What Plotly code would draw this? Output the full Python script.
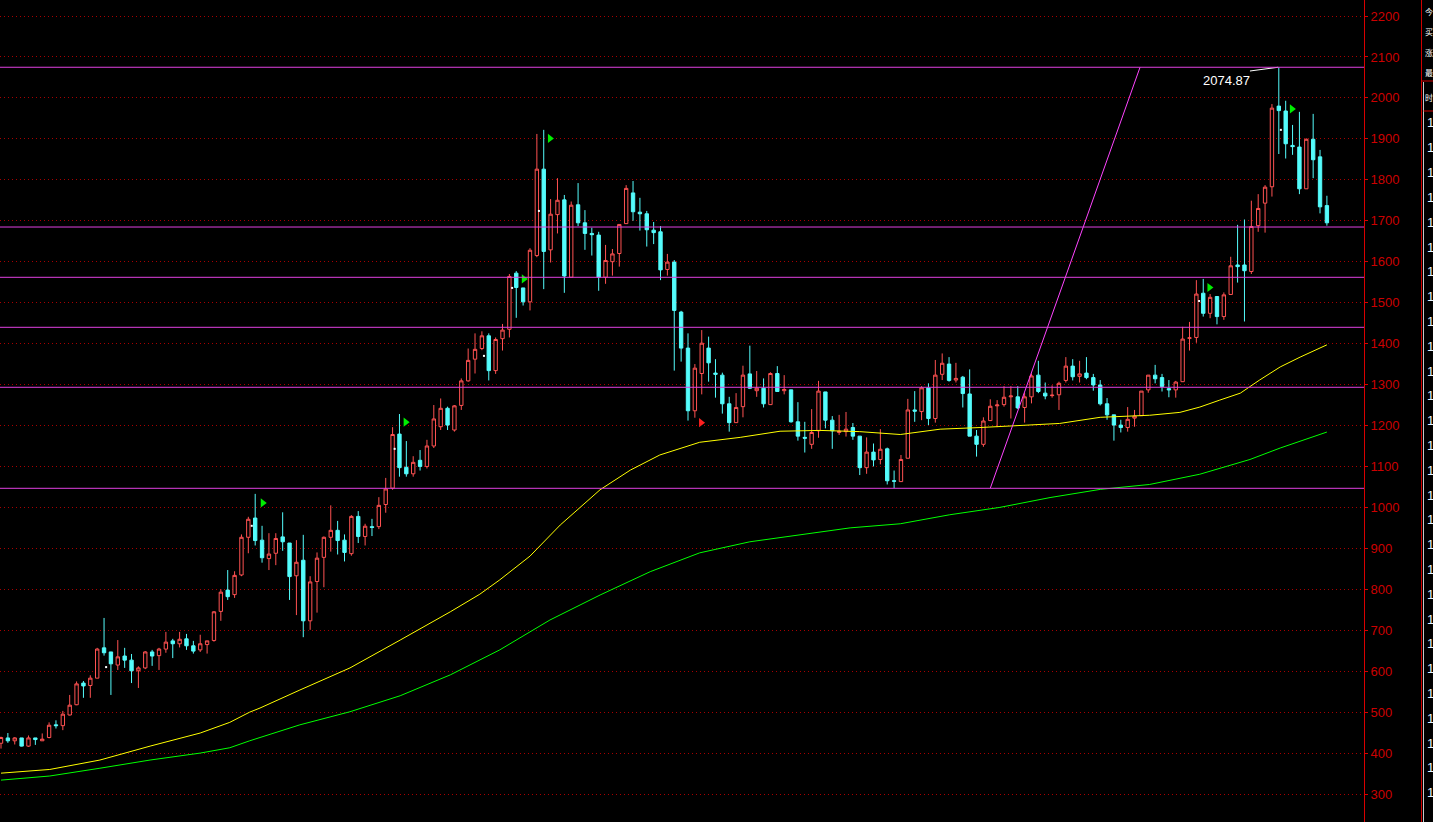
import plotly.graph_objects as go

# ---------------- data ----------------
opens = [
    424, 437, 430, 437, 417, 437, 430, 438, 469, 467,
    493, 518, 571, 565, 583, 657, 647, 615, 637, 627,
    601, 608, 647, 638, 654, 674, 667, 679, 662, 652,
    665, 675, 746, 798, 787, 835, 927, 974, 920, 875,
    888, 928, 913, 833, 871, 723, 819, 878, 927, 944,
    920, 887, 978, 929, 953, 953, 1007, 1047, 1179, 1098,
    1082, 1115, 1100, 1150, 1197, 1242, 1189, 1249, 1309, 1362,
    1388, 1419, 1334, 1412, 1435, 1572, 1536, 1502, 1615, 1826,
    1629, 1715, 1751, 1562, 1739, 1695, 1669, 1665, 1562, 1600,
    1620, 1693, 1768, 1721, 1717, 1677, 1673, 1581, 1599, 1477,
    1389, 1236, 1327, 1389, 1328, 1323, 1253, 1207, 1246, 1326,
    1285, 1291, 1251, 1327, 1285, 1287, 1209, 1171, 1154, 1187,
    1282, 1213, 1183, 1185, 1195, 1174, 1097, 1135, 1117, 1143,
    1065, 1063, 1120, 1238, 1234, 1292, 1217, 1325, 1350, 1311,
    1318, 1277, 1174, 1154, 1212, 1248, 1251, 1270, 1270, 1244,
    1270, 1323, 1279, 1273, 1275, 1310, 1345, 1320, 1328, 1317,
    1299, 1253, 1226, 1201, 1195, 1218, 1224, 1287, 1323, 1317,
    1290, 1287, 1307, 1413, 1415, 1523, 1474, 1515, 1466, 1520,
    1592, 1592, 1576, 1688, 1743, 1783, 1980, 1968, 1884, 1880,
    1778, 1899, 1856, 1737,
]
highs = [
    440, 449, 439, 437, 443, 437, 448, 475, 480, 503,
    542, 575, 576, 590, 657, 730, 647, 676, 657, 642,
    612, 649, 652, 657, 696, 679, 696, 691, 674, 689,
    674, 747, 800, 847, 844, 934, 977, 1033, 955, 937,
    937, 988, 913, 920, 933, 832, 890, 929, 1005, 967,
    934, 981, 991, 960, 972, 1025, 1072, 1196, 1228, 1162,
    1125, 1140, 1165, 1250, 1266, 1246, 1250, 1315, 1388, 1425,
    1430, 1425, 1415, 1448, 1570, 1577, 1536, 1633, 1912, 1922,
    1753, 1804, 1763, 1747, 1792, 1726, 1683, 1673, 1641, 1631,
    1691, 1787, 1797, 1756, 1724, 1697, 1687, 1619, 1604, 1480,
    1425, 1350, 1433, 1417, 1362, 1329, 1270, 1279, 1346, 1395,
    1333, 1315, 1330, 1345, 1323, 1287, 1257, 1209, 1240, 1309,
    1282, 1223, 1226, 1233, 1206, 1174, 1171, 1156, 1191, 1146,
    1090, 1128, 1265, 1284, 1296, 1303, 1360, 1376, 1367, 1353,
    1321, 1337, 1189, 1220, 1264, 1262, 1296, 1296, 1296, 1280,
    1327, 1358, 1305, 1298, 1307, 1367, 1362, 1358, 1367, 1326,
    1311, 1267, 1226, 1214, 1245, 1238, 1284, 1323, 1348, 1326,
    1311, 1309, 1441, 1453, 1555, 1558, 1521, 1516, 1525, 1612,
    1690, 1703, 1749, 1765, 1787, 1985, 2074.87, 1993, 1934, 1966,
    1901, 1961, 1873, 1761,
]
lows = [
    411, 425, 421, 416, 415, 420, 430, 436, 460, 456,
    492, 517, 535, 535, 583, 638, 542, 603, 608, 571,
    559, 605, 613, 603, 645, 632, 658, 652, 643, 647,
    643, 672, 723, 774, 779, 832, 888, 907, 865, 847,
    859, 894, 774, 737, 683, 701, 743, 805, 892, 885,
    868, 882, 913, 907, 930, 947, 987, 1043, 1075, 1075,
    1075, 1090, 1095, 1145, 1189, 1189, 1185, 1238, 1307, 1327,
    1384, 1310, 1326, 1383, 1415, 1463, 1493, 1481, 1611, 1533,
    1598, 1669, 1524, 1562, 1687, 1629, 1615, 1529, 1546, 1566,
    1588, 1693, 1700, 1676, 1637, 1643, 1555, 1566, 1334, 1356,
    1212, 1219, 1276, 1307, 1268, 1229, 1185, 1207, 1220, 1289,
    1270, 1244, 1251, 1283, 1276, 1207, 1163, 1134, 1143, 1170,
    1193, 1143, 1177, 1173, 1165, 1079, 1082, 1100, 1105, 1056,
    1047, 1063, 1120, 1209, 1213, 1201, 1207, 1311, 1307, 1305,
    1244, 1174, 1124, 1148, 1211, 1196, 1246, 1217, 1240, 1207,
    1254, 1279, 1264, 1268, 1238, 1305, 1310, 1305, 1313, 1285,
    1249, 1214, 1163, 1183, 1185, 1197, 1224, 1280, 1303, 1283,
    1269, 1268, 1307, 1383, 1402, 1466, 1462, 1447, 1458, 1520,
    1549, 1454, 1570, 1673, 1671, 1759, 1863, 1852, 1861, 1765,
    1778, 1804, 1718, 1688,
]
closes = [
    438, 430, 437, 417, 437, 433, 434, 468, 467, 495,
    517, 569, 564, 583, 654, 645, 618, 635, 627, 601,
    608, 647, 637, 654, 671, 667, 678, 662, 649, 667,
    674, 745, 793, 782, 834, 927, 971, 919, 877, 886,
    924, 916, 831, 866, 723, 818, 876, 927, 944, 919,
    890, 978, 929, 954, 951, 1005, 1045, 1178, 1097, 1082,
    1110, 1100, 1150, 1216, 1242, 1201, 1248, 1309, 1359, 1386,
    1419, 1334, 1410, 1433, 1564, 1537, 1502, 1628, 1826, 1625,
    1716, 1750, 1565, 1738, 1695, 1669, 1666, 1562, 1603, 1619,
    1691, 1779, 1722, 1717, 1678, 1671, 1580, 1599, 1481, 1389,
    1236, 1340, 1401, 1353, 1325, 1253, 1207, 1244, 1323, 1291,
    1291, 1253, 1327, 1283, 1288, 1209, 1174, 1169, 1183, 1284,
    1213, 1187, 1186, 1191, 1174, 1097, 1135, 1116, 1142, 1065,
    1064, 1117, 1238, 1235, 1292, 1217, 1323, 1352, 1310, 1315,
    1278, 1174, 1154, 1211, 1247, 1250, 1269, 1272, 1243, 1270,
    1321, 1283, 1272, 1274, 1303, 1345, 1319, 1326, 1317, 1299,
    1253, 1226, 1201, 1195, 1215, 1223, 1284, 1323, 1314, 1295,
    1287, 1306, 1411, 1414, 1521, 1474, 1513, 1466, 1519, 1590,
    1588, 1578, 1686, 1730, 1782, 1975, 1969, 1888, 1881, 1778,
    1899, 1849, 1734, 1695,
]

# moving averages (sampled along the drawn curves)
ma_short_idx = [0, 7.1, 14.4, 21.7, 29, 33.3, 36.2, 37.7, 43.5, 50.8, 58.1, 65.4, 69.7,
                72.6, 77, 80, 81.4, 87.2, 91.6, 95.9, 101.7, 107.6, 113.4, 119.2, 125,
                130.9, 136.7, 142.5, 146.9, 154.1, 160, 167.2, 171.6, 174.5, 177.4,
                180.4, 183.2, 186.2, 189.1, 193]
ma_short_val = [351, 360, 383, 417, 449, 475, 500, 510, 554, 608, 676, 745, 788,
                823, 881, 933, 957, 1043, 1091, 1128, 1159, 1171, 1186, 1188, 1185,
                1178, 1191, 1195, 1199, 1205, 1220, 1225, 1232, 1245, 1262,
                1279, 1311, 1343, 1367, 1397]
ma_long_idx = [0, 7.1, 14.4, 21.7, 29, 33.3, 36.2, 43.5, 50.8, 58.1, 65.4, 72.6, 79.9,
               87.2, 94.5, 101.7, 109, 116.3, 123.6, 130.9, 138.1, 145.4, 152.7, 160,
               167.2, 174.5, 181.8, 186.2, 193]
ma_long_val = [334, 344, 363, 383, 400, 413, 430, 469, 501, 540, 591, 652, 725,
               786, 843, 889, 916, 933, 950, 960, 982, 1000, 1024, 1044,
               1056, 1081, 1117, 1145, 1184]

# Fibonacci levels between the swing low and the high
fib_levels = [1046.6, 1293.3, 1439.8, 1561.9, 1684.7, 2074.87]
# trend line endpoints (candle index, price)
trend_x = [144.0, 165.8]
trend_y = [1046.6, 2074.87]

# signal flags
up_flag_x = [38.1, 58.9, 79.9, 76.1, 175.9, 187.9]
up_flag_y = [1011, 1208, 1901, 1558, 1537, 1973]
down_flag_x = [101.9]
down_flag_y = [1207]
dot_x = [15.3, 36.5, 57.3, 70.3, 74.4, 78.3, 186.3, 174.4]
dot_y = [610, 955, 1143, 1370, 1536, 1724, 1922, 1504]

high_label = "2074.87"
leader_x = [181.8, 185.9]
leader_y = [2065.7, 2074.87]

y_ticks = list(range(300, 2201, 100))

panel_chars = ["今", "买", "涨", "最"]
panel_time = "时"

# ---------------- figure ----------------
UP = "#ff5252"
DOWN = "#54fcfc"
W, H = 1433, 822
PLOT_R = 1364

n = min(len(opens), len(highs), len(lows), len(closes))
idx = list(range(n))

fig = go.Figure()
fig.add_trace(go.Candlestick(
    x=idx, open=opens[:n], high=highs[:n], low=lows[:n], close=closes[:n],
    increasing=dict(line=dict(color=UP, width=1), fillcolor="#000000"),
    decreasing=dict(line=dict(color=DOWN, width=1), fillcolor=DOWN),
    whiskerwidth=0, hoverinfo="skip", showlegend=False,
))
fig.add_trace(go.Scatter(x=ma_long_idx, y=ma_long_val, mode="lines",
                         line=dict(color="#00ff00", width=1), hoverinfo="skip", showlegend=False))
fig.add_trace(go.Scatter(x=ma_short_idx, y=ma_short_val, mode="lines",
                         line=dict(color="#ffff00", width=1), hoverinfo="skip", showlegend=False))
fig.add_trace(go.Scatter(x=trend_x, y=trend_y, mode="lines",
                         line=dict(color="#ff44ff", width=1), hoverinfo="skip", showlegend=False))
fig.add_trace(go.Scatter(x=leader_x, y=leader_y, mode="lines",
                         line=dict(color="#ffffff", width=1), hoverinfo="skip", showlegend=False))
fig.add_trace(go.Scatter(x=up_flag_x, y=up_flag_y, mode="markers",
                         marker=dict(symbol="triangle-right", size=8, color="#00ee00"),
                         hoverinfo="skip", showlegend=False))
fig.add_trace(go.Scatter(x=down_flag_x, y=down_flag_y, mode="markers",
                         marker=dict(symbol="triangle-right", size=8, color="#ff2020"),
                         hoverinfo="skip", showlegend=False))
fig.add_trace(go.Scatter(x=dot_x, y=dot_y, mode="markers",
                         marker=dict(symbol="square", size=2, color="#ffffff"),
                         hoverinfo="skip", showlegend=False))

shapes = []
for lv in fib_levels:
    shapes.append(dict(type="line", xref="paper", yref="y", x0=0, x1=1, y0=lv, y1=lv,
                       line=dict(color="#e040e0", width=1)))


def px(p):
    return p / PLOT_R


def py(p):
    return 1 - p / H


# right-hand side panel (at the window edge)
shapes.append(dict(type="line", xref="paper", yref="paper", x0=px(1421.5), x1=px(1421.5),
                   y0=0, y1=1, line=dict(color="#d00000", width=1)))
shapes.append(dict(type="line", xref="paper", yref="paper", x0=px(1423.5), x1=px(1423.5),
                   y0=0, y1=py(82), line=dict(color="#c8c8c8", width=1)))
shapes.append(dict(type="line", xref="paper", yref="paper", x0=px(1421.5), x1=px(1440),
                   y0=py(81), y1=py(81), line=dict(color="#d00000", width=1)))
shapes.append(dict(type="line", xref="paper", yref="paper", x0=px(1423.5), x1=px(1440),
                   y0=py(111), y1=py(111), line=dict(color="#d00000", width=1)))

annotations = [
    dict(x=178.4, y=2042, xref="x", yref="y", text=high_label, showarrow=False,
         font=dict(family="Liberation Sans, Arial, sans-serif", size=13, color="#ffffff")),
]
for ch, yy in zip(panel_chars, [11, 32, 52, 72]):
    annotations.append(dict(x=px(1423.5), y=py(yy), xref="paper", yref="paper", text=ch,
                            showarrow=False, xanchor="left", yanchor="middle", borderpad=0,
                            font=dict(family="Noto Sans CJK SC", size=8, color="#ffffff")))
annotations.append(dict(x=px(1424), y=py(97), xref="paper", yref="paper", text=panel_time,
                        showarrow=False, xanchor="left", yanchor="middle", borderpad=0,
                        font=dict(family="Noto Sans CJK SC", size=8, color="#ffffff")))
k = 0
while 123 + 24.8 * k < 810:
    annotations.append(dict(x=px(1424.5), y=py(123 + 24.8 * k), xref="paper", yref="paper",
                            text="1", showarrow=False, xanchor="left", yanchor="middle",
                            font=dict(family="Liberation Sans, Arial", size=13,
                                      color="#e8f4ff")))
    k += 1

fig.update_layout(
    width=W, height=H, autosize=False,
    margin=dict(l=0, r=W - PLOT_R, t=0, b=0, pad=0),
    paper_bgcolor="#000000", plot_bgcolor="#000000",
    showlegend=False, hovermode=False,
    shapes=shapes, annotations=annotations,
    xaxis=dict(range=[-0.146, 198.4], showgrid=False, zeroline=False, showticklabels=False,
               showline=False, ticks="", rangeslider=dict(visible=False), fixedrange=True),
    yaxis=dict(side="right", range=[231.7, 2239.1], tickvals=y_ticks,
               ticktext=[str(v) for v in y_ticks],
               showgrid=True, gridcolor="#a80000", gridwidth=1, griddash="1px,3px",
               zeroline=False, showline=True, linecolor="#d80000", linewidth=1,
               ticks="outside", ticklen=3, tickcolor="#d80000",
               tickfont=dict(family="Liberation Sans, Arial, sans-serif", size=13,
                             color="#cc0000"),
               fixedrange=True),
)

fig.write_html(
    "out.html",
    config={"displayModeBar": False},
    post_script="document.body.style.margin='0';document.body.style.background='#000';",
)
